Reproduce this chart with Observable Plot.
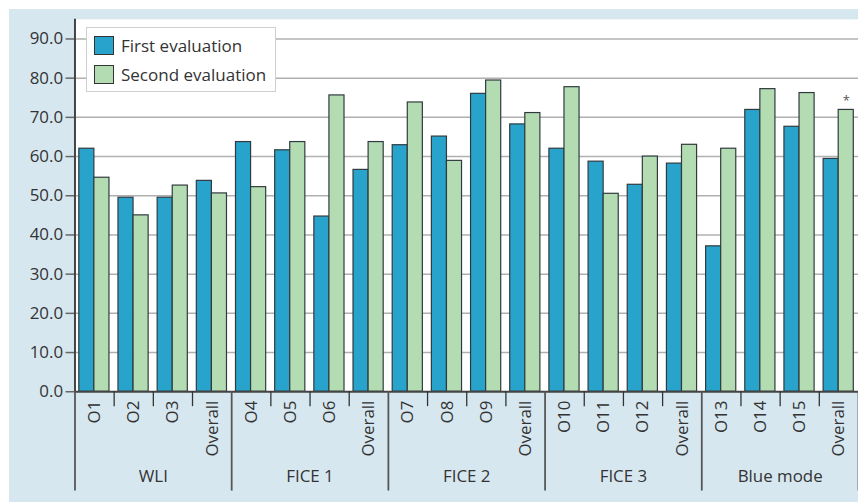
<!DOCTYPE html>
<html>
<head>
<meta charset="utf-8">
<script src="https://cdn.jsdelivr.net/npm/d3@7"></script>
<script src="https://cdn.jsdelivr.net/npm/@observablehq/plot@0.6"></script>
<style>
  html, body { margin: 0; padding: 0; background: #ffffff; }
  #wrap { position: relative; width: 858px; height: 502px; overflow: hidden; font-family: "Open Sans", sans-serif; }
  #panel { position: absolute; left: 9px; top: 9px; width: 849px; height: 493px; background: #d7e7f0; }
  #chart { position: absolute; left: 0; top: 0; }
  #legend { position: absolute; left: 86px; top: 27px; width: 190px; height: 65px; background: #fff; border: 1.5px solid #cfcfcf; box-sizing: border-box; padding: 3px 0 0 7px; }
  .item { display: flex; align-items: center; height: 29px; font-size: 17px; color: #333; }
  .sw { width: 20px; height: 19px; border: 1px solid #333; box-sizing: border-box; margin-right: 7px; }
</style>
</head>
<body>
<div id="wrap">
  <div id="panel"></div>
  <div id="chart"></div>
  <div id="legend"></div>
</div>
<script>
const groups = ["WLI", "FICE 1", "FICE 2", "FICE 3", "Blue mode"];
const categories = ["O1","O2","O3","Overall","O4","O5","O6","Overall","O7","O8","O9","Overall","O10","O11","O12","Overall","O13","O14","O15","Overall"];
const seriesNames = ["First evaluation", "Second evaluation"];
const firstEval  = [62.0,49.5,49.5,53.8,63.7,61.6,44.7,56.6,62.9,65.1,76.0,68.2,62.0,58.7,52.8,58.2,37.1,71.9,67.6,59.4];
const secondEval = [54.6,45.0,52.6,50.6,52.2,63.7,75.6,63.7,73.8,58.9,79.4,71.1,77.7,50.5,60.0,63.0,62.0,77.2,76.2,71.9];
const yTicks = [0,10,20,30,40,50,60,70,80,90];
const significant = [19];
const colors = ["#28a3cb", "#b3dcb3"];

const perGroup = 4;
const rows = [];
categories.forEach((c, i) => {
  rows.push({i, cat: c, series: seriesNames[0], value: firstEval[i], x1: i + 0.11, x2: i + 0.495});
  rows.push({i, cat: c, series: seriesNames[1], value: secondEval[i], x1: i + 0.495, x2: i + 0.88});
});
const n = categories.length;
const idx = d3.range(n);
const innerSeps = d3.range(n).filter(i => i % perGroup !== 0);
const groupSeps = d3.range(0, n + 1, perGroup);
const groupCenters = groups.map((g, k) => k * perGroup + perGroup / 2);

const font = "'Open Sans', sans-serif";
const chart = Plot.plot({
  width: 864,
  height: 502,
  marginLeft: 75,
  marginRight: 0,
  marginTop: 19,
  marginBottom: 108,
  style: {background: "transparent", fontFamily: font, fontSize: "17px", color: "#333"},
  x: {type: "linear", domain: [0, n], axis: null, label: null},
  y: {domain: [0, 95], axis: null, label: null},
  color: {domain: seriesNames, range: colors},
  marks: [
    Plot.frame({fill: "white", stroke: "none"}),
    Plot.gridY(yTicks.slice(1), {stroke: "#b0b0b0", strokeOpacity: 1, strokeWidth: 1.5}),
    Plot.rectY(rows, {x1: "x1", x2: "x2", y: "value", fill: "series", stroke: "#303a3e", strokeWidth: 1.2}),
    Plot.text(significant, {x: i => i + 0.6875, y: i => secondEval[i], text: () => "*", dy: -9, fontSize: 13, fill: "#555"}),
    Plot.axisY({ticks: yTicks, tickFormat: d3.format(".1f"), tickSize: 9, tickPadding: 3, fontSize: 17, stroke: "#666", strokeWidth: 1.5, fill: "#333", label: null}),
    Plot.ruleY([0], {stroke: "#444", strokeWidth: 2}),
    Plot.ruleX([0], {stroke: "#444", strokeWidth: 2}),
    Plot.axisX({ticks: innerSeps, tickFormat: () => "", tickSize: 15, stroke: "#333", strokeWidth: 1.3, label: null}),
    Plot.axisX({ticks: groupSeps, tickFormat: () => "", tickSize: 100, stroke: "#555", strokeWidth: 1.8, label: null}),
    Plot.axisX({ticks: idx.map(i => i + 0.5), tickFormat: d => categories[Math.floor(d)], tickSize: 0, tickPadding: 9, tickRotate: -90, fontSize: 17, fill: "#333", label: null}),
    Plot.axisX({ticks: groupCenters, tickFormat: d => groups[(d - perGroup / 2) / perGroup], tickSize: 0, tickPadding: 79, fontSize: 17, fill: "#333", label: null})
  ]
});
document.getElementById("chart").appendChild(chart);

const legend = document.getElementById("legend");
seriesNames.forEach((s, k) => {
  const it = document.createElement("div");
  it.className = "item";
  const sw = document.createElement("span");
  sw.className = "sw";
  sw.style.background = colors[k];
  const t = document.createElement("span");
  t.textContent = s;
  it.appendChild(sw);
  it.appendChild(t);
  legend.appendChild(it);
});
</script>
</body>
</html>
